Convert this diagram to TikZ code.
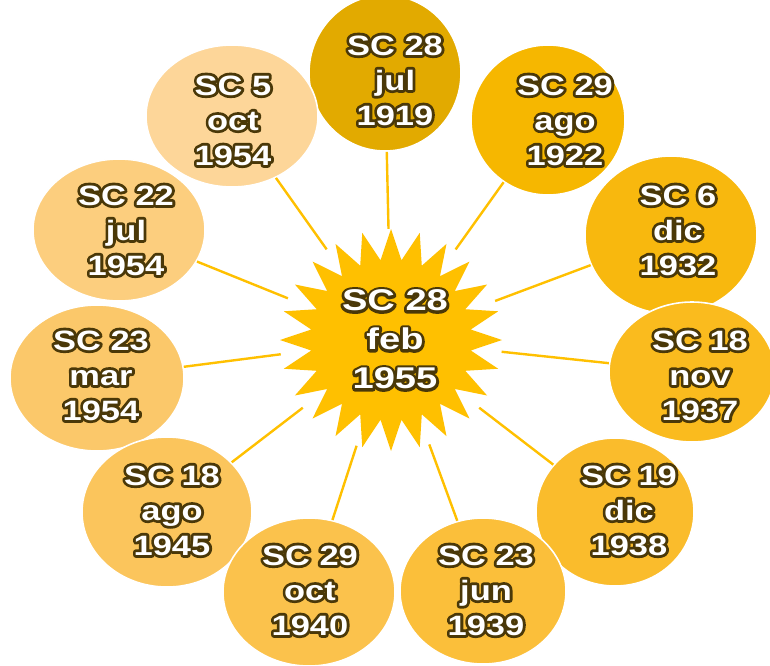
\documentclass[tikz,border=0pt]{standalone}
\usepackage{fontspec}
\setmainfont{Liberation Sans}
\newfontfamily\bubblefont{Liberation Sans}[FakeStretch=1.23]
\newfontfamily\burstfont{Liberation Sans}[FakeStretch=1.27]
\usetikzlibrary{shapes.geometric}

\definecolor{glowdark}{HTML}{4A3808}
\definecolor{linkgold}{HTML}{FFC000}
\definecolor{stargold}{HTML}{FFC000}
\definecolor{cA}{HTML}{E2AA00}
\definecolor{cB}{HTML}{F6B700}
\definecolor{cC}{HTML}{F8B80E}
\definecolor{cD}{HTML}{FABB1E}
\definecolor{cE}{HTML}{FABC2C}
\definecolor{cF}{HTML}{FBBF3A}
\definecolor{cG}{HTML}{FBC24C}
\definecolor{cH}{HTML}{FBC55C}
\definecolor{cI}{HTML}{FBC86A}
\definecolor{cJ}{HTML}{FCCE7E}
\definecolor{cK}{HTML}{FDD699}

% white bold lines with a dark outline behind them:
% a stroked dark copy (text render mode 2) and the white face on top
\newsavebox\haloinner
\newsavebox\haloface
\newcommand\halotext[1]{%
  \sbox\haloinner{\color{glowdark}\begin{tabular}{@{}c@{}}#1\end{tabular}}%
  \sbox\haloface{\color{white}\begin{tabular}{@{}c@{}}#1\end{tabular}}%
  \leavevmode
  \rlap{\special{pdf:literal direct 2 Tr 5.6 w 1 j 1 J}\usebox\haloinner\special{pdf:literal direct 0 Tr}}%
  \usebox\haloface}

\tikzset{
  datebubble/.style={ellipse, draw=white, line width=1.6pt, inner sep=0pt},
  datetext/.style={inner sep=0pt, font=\bubblefont\bfseries\fontsize{28}{35}\selectfont},
  hubstar/.style={star, star points=24, star point ratio=1.38, fill=stargold,
    draw=none, minimum size=222pt, inner sep=0pt},
  hubtext/.style={inner sep=0pt, font=\burstfont\bfseries\fontsize{30}{39}\selectfont},
  hubring/.style={circle, draw=none, minimum size=222pt, inner sep=0pt},
  link/.style={draw=linkgold, line width=2.4pt}
}

\begin{document}
\begin{tikzpicture}[x=1pt, y=-1pt]
\useasboundingbox (0,0) rectangle (770,665);

% surrounding date bubbles
\node[datebubble, fill=cA, minimum width=152pt, minimum height=156pt] (c1)  at (385,73)  {};
\node[datebubble, fill=cK, minimum width=172pt, minimum height=142pt] (c11) at (232,116) {};
\node[datebubble, fill=cB, minimum width=154pt, minimum height=150pt] (c2)  at (548,120) {};
\node[datebubble, fill=cJ, minimum width=172pt, minimum height=142pt] (c10) at (119,230) {};
\node[datebubble, fill=cC, minimum width=172pt, minimum height=158pt] (c3)  at (671,235) {};
\node[datebubble, fill=cI, minimum width=174pt, minimum height=146pt] (c9)  at (97,378)  {};
\node[datebubble, fill=cD, minimum width=166pt, minimum height=140pt] (c4)  at (692,372) {};
\node[datebubble, fill=cH, minimum width=170pt, minimum height=150pt] (c8)  at (167,512) {};
\node[datebubble, fill=cE, minimum width=158pt, minimum height=148pt] (c5)  at (615,512) {};
\node[datebubble, fill=cG, minimum width=172pt, minimum height=148pt] (c7)  at (309,592) {};
\node[datebubble, fill=cF, minimum width=166pt, minimum height=146pt] (c6)  at (483,591) {};

% their dates
\node[datetext] (t1)  at (395,83)  {\halotext{SC 28\\jul\\1919}};
\node[datetext] (t2)  at (565,123) {\halotext{SC 29\\ago\\1922}};
\node[datetext] (t3)  at (678,233) {\halotext{SC 6\\dic\\1932}};
\node[datetext] (t4)  at (700,378) {\halotext{SC 18\\nov\\1937}};
\node[datetext] (t5)  at (629,513) {\halotext{SC 19\\dic\\1938}};
\node[datetext] (t6)  at (486,593) {\halotext{SC 23\\jun\\1939}};
\node[datetext] (t7)  at (310,593) {\halotext{SC 29\\oct\\1940}};
\node[datetext] (t8)  at (172,513) {\halotext{SC 18\\ago\\1945}};
\node[datetext] (t9)  at (101,378) {\halotext{SC 23\\mar\\1954}};
\node[datetext] (t10) at (126,233) {\halotext{SC 22\\jul\\1954}};
\node[datetext] (t11) at (233,123) {\halotext{SC 5\\oct\\1954}};

% central burst
\node[hubring] (hub) at (391,340) {};
\foreach \c in {c1,c2,c3,c4,c5,c6,c7,c8,c9,c10,c11}
  \draw[link] (hub) -- (\c);
\node[hubstar] (star) at (391,340) {};
\node[hubtext] (hubdate) at (395,342) {\halotext{SC 28\\feb\\1955}};
\end{tikzpicture}
\end{document}
